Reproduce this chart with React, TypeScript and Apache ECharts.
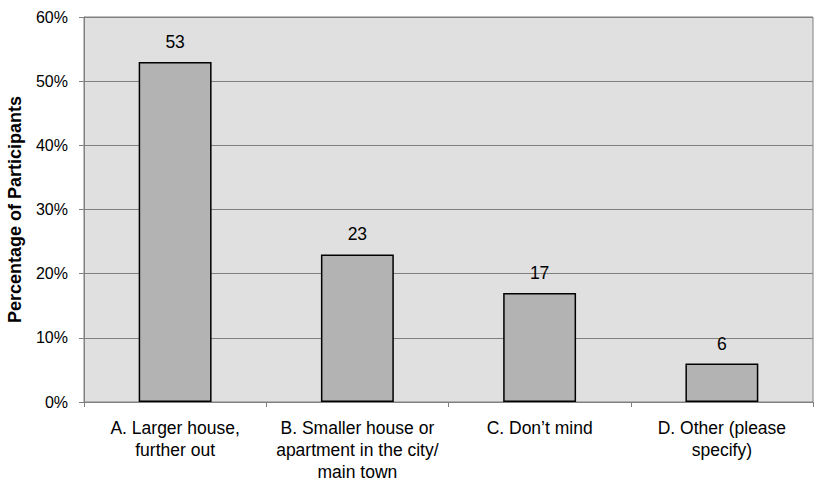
import React, { useEffect, useRef } from "react";
import * as echarts from "echarts";

const categories = [
  "A. Larger house,\nfurther out",
  "B. Smaller house or\napartment in the city/\nmain town",
  "C. Don\u2019t mind",
  "D. Other (please\nspecify)",
];
const values = [53, 23, 17, 6];
const yTicks = { min: 0, max: 60, interval: 10 };
const yAxisTitle = "Percentage of Participants";

export default function App() {
  const ref = useRef<HTMLDivElement>(null);
  useEffect(() => {
    if (!ref.current) return;
    const chart = echarts.init(ref.current, undefined, { renderer: "svg" });
    const font = "'Liberation Sans', Arial, sans-serif";
    chart.setOption({
      animation: false,
      backgroundColor: "#ffffff",
      textStyle: { fontFamily: font },
      grid: {
        left: 84,
        right: 2,
        top: 17,
        bottom: 84,
        outerBoundsMode: "none",
        containLabel: false,
        show: true,
        backgroundColor: "#e0e0e0",
        borderColor: "#808080",
        borderWidth: 1,
      },
      xAxis: {
        type: "category",
        data: categories,
        axisLine: { lineStyle: { color: "#808080", width: 1 } },
        axisTick: { show: true, length: 5, lineStyle: { color: "#808080" } },
        axisLabel: {
          color: "#000",
          fontSize: 17.5,
          fontFamily: font,
          margin: 15,
          lineHeight: 22,
          interval: 0,
        },
      },
      yAxis: {
        type: "value",
        min: yTicks.min,
        max: yTicks.max,
        interval: yTicks.interval,
        name: yAxisTitle,
        nameLocation: "middle",
        nameGap: 60,
        nameTextStyle: {
          color: "#000",
          fontSize: 18,
          fontWeight: "bold",
          fontFamily: font,
        },
        axisLine: { show: true, lineStyle: { color: "#808080" } },
        axisTick: { show: true, length: 5, lineStyle: { color: "#808080" } },
        axisLabel: {
          color: "#000",
          fontSize: 16,
          fontFamily: font,
          margin: 16,
          formatter: "{value}%",
        },
        splitLine: { show: true, lineStyle: { color: "#808080", width: 1 } },
      },
      series: [
        {
          type: "bar",
          data: values,
          barWidth: "40%",
          itemStyle: { color: "#b3b3b3", borderColor: "#000", borderWidth: 1.5 },
          label: {
            show: true,
            position: "top",
            distance: 11,
            color: "#000",
            fontSize: 17.5,
            fontFamily: font,
          },
        },
      ],
    });
    return () => chart.dispose();
  }, []);
  return (
    <div
      ref={ref}
      style={{ position: "fixed", left: 0, top: 0, width: 815, height: 486 }}
    />
  );
}
